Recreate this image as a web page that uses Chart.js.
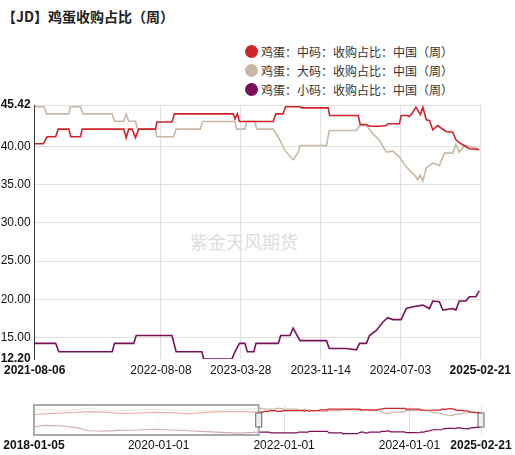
<!DOCTYPE html>
<html><head><meta charset="utf-8">
<script src="https://cdn.jsdelivr.net/npm/chart.js@4"></script>
<style>
body{margin:0;width:515px;height:455px;background:#fff;font-family:"Noto Sans CJK SC",sans-serif;position:relative;overflow:hidden}
#title{position:absolute;left:2px;top:6px;font-size:14px;font-weight:bold;color:#222}
#legend{position:absolute;right:62px;top:42px;font-size:12px;color:#333;line-height:19px}
#legend div{display:flex;align-items:center;justify-content:flex-start}
#legend span.d{display:inline-block;width:13px;height:13px;border-radius:7px;margin-right:3px}
#wm{position:absolute;left:190px;top:228px;font-size:18px;color:#ddd}
canvas{position:absolute;left:0}
</style></head><body>
<div id="title">【JD】鸡蛋收购占比（周）</div>
<div id="legend"></div>
<div id="wm">紫金天风期货</div>
<canvas id="c1" width="515" height="385" style="top:0"></canvas>
<canvas id="c2" width="515" height="60" style="top:395px"></canvas>
<script>
const START = "2021-08-06";
const END_DAY = 1295;
const xTickDays = [0, 367, 599, 831, 1063, 1295];
const xTickLabels = ["2021-08-06","2022-08-08","2023-03-28","2023-11-14","2024-07-03","2025-02-21"];
const yTicks = [12.20, 15, 20, 25, 30, 35, 40, 45.42];
const names = ["鸡蛋：中码：收购占比：中国（周）","鸡蛋：大码：收购占比：中国（周）","鸡蛋：小码：收购占比：中国（周）"];
const colors = ["#d0232a","#c9b8a5","#7b0f5a"];
// [day offset since 2021-08-06, value]
const midSize = [[0,40.35],[25,40.35],[36,41.26],[61,41.26],[68,42.26],[99,42.26],[105,41.26],[133,41.26],[138,42.26],[259,42.26],[266,41.13],[273,42.26],[283,42.26],[293,41.13],[302,42.26],[351,42.26],[355,43.2],[399,43.2],[406,44.26],[577,44.26],[582,43.6],[589,44.26],[595,43.26],[693,43.26],[701,44.26],[722,44.26],[729,45.2],[771,45.2],[775,45.04],[853,45.04],[857,44.04],[940,44.04],[946,42.87],[964,42.87],[973,42.65],[1002,42.65],[1022,42.74],[1026,42.96],[1060,42.96],[1065,44.04],[1084,44.04],[1089,43.9],[1099,44.48],[1108,45.13],[1121,44.17],[1128,45.13],[1138,43.48],[1147,43.39],[1157,42.17],[1171,42.74],[1195,41.96],[1215,41.87],[1224,40.87],[1239,40.35],[1263,39.7],[1292,39.6]];
const bigSize = [[0,45.2],[27,45.2],[35,44.26],[99,44.26],[104,45.2],[133,45.2],[140,44.26],[225,44.26],[232,43.3],[259,43.3],[266,44.26],[273,43.3],[293,43.3],[299,42.26],[351,42.26],[355,41.26],[404,41.26],[411,42.26],[481,42.26],[488,43.26],[582,43.26],[587,42.26],[611,42.26],[616,43.26],[640,43.26],[645,42.26],[693,42.26],[708,41.22],[727,39.48],[751,38.26],[766,39.26],[771,40.13],[848,40.13],[856,42.09],[935,42.09],[944,42.7],[964,42.7],[983,41.65],[1002,40.78],[1022,39.26],[1041,39.39],[1060,38.6],[1080,37.3],[1104,36.22],[1113,35.65],[1120,36.22],[1128,35.48],[1138,37.22],[1157,37.83],[1176,37.52],[1191,39.13],[1215,39.13],[1224,40.26],[1234,39.26],[1249,40.13],[1282,39.83],[1292,39.48]];
const smallSize = [[0,14.25],[61,14.25],[70,13.14],[225,13.14],[232,14.25],[288,14.25],[295,15.27],[399,15.27],[411,13.14],[486,13.14],[491,12.2],[573,12.2],[582,13.14],[595,14.25],[611,14.25],[618,13.14],[637,13.14],[643,14.25],[708,14.25],[715,15.27],[742,15.27],[751,16.24],[771,14.6],[848,14.6],[856,13.58],[906,13.58],[935,13.4],[944,14.25],[964,14.25],[973,15.27],[993,15.93],[1012,17.04],[1026,17.6],[1041,17.35],[1065,17.35],[1080,18.8],[1099,19.03],[1128,19.25],[1147,18.8],[1157,19.78],[1176,19.7],[1186,18.6],[1215,18.8],[1224,18.6],[1234,19.78],[1253,19.78],[1263,20.35],[1282,20.35],[1292,21.1]];
// navigator: days since 2018-01-05 (earlier history, estimated)
const NAV_OFFSET = 1309;
const navTickDays = [0, 726, 1457, 2187, 2604];
const navTickLabels = ["2018-01-05","2020-01-01","2022-01-01","2024-01-01","2025-02-21"];
const midEarly = [[0,37],[60,38],[150,39],[250,40],[320,41],[400,40.5],[500,38.5],[600,39],[700,40],[800,39.5],[900,38],[1000,40],[1100,41],[1200,41],[1309,40.35]];
const bigEarly = [[0,44],[80,43.5],[150,42],[250,44],[320,45.5],[400,43],[500,42],[600,43],[700,44],[800,43],[900,42],[1000,41.5],[1100,43],[1200,44],[1309,45.2]];
const smallEarly = [[0,21],[60,23],[150,22.5],[250,20],[320,16],[400,15.5],[500,16.5],[600,17],[700,18],[800,17],[900,16],[1000,15],[1100,14],[1200,13],[1309,14.25]];
const series = [midSize, bigSize, smallSize];
const early = [midEarly, bigEarly, smallEarly];

document.getElementById('legend').innerHTML = names.map((n,i)=>`<div><span class="d" style="background:${colors[i]}"></span>${n}</div>`).join('');

const toPts = a => a.map(p=>({x:p[0],y:p[1]}));
const boldEnds = n => (ctx)=>({family:"Liberation Sans, Arial", size:12, weight:(ctx.index===0||ctx.index===n-1)?'bold':'normal'});

new Chart(document.getElementById('c1'), {
  type:'line',
  data:{datasets: series.map((s,i)=>({label:names[i],data:toPts(s),borderColor:colors[i],borderWidth:1.6,pointRadius:0,tension:0}))},
  options:{
    animation:false,responsive:false,
    layout:{padding:{top:105,right:34,left:0,bottom:0}},
    plugins:{legend:{display:false},tooltip:{enabled:false}},
    scales:{
      x:{type:'linear',min:0,max:END_DAY,
        afterBuildTicks:s=>{s.ticks=xTickDays.map(v=>({value:v}))},
        afterFit:s=>{s.height=26},
        grid:{color:'#e0e0e0',drawTicks:false},border:{display:false},
        ticks:{maxRotation:0,autoSkip:false,color:'#111',padding:4,font:boldEnds(xTickDays.length),callback:(v,i)=>xTickLabels[i]}},
      y:{min:12.2,max:45.42,
        afterBuildTicks:s=>{s.ticks=yTicks.map(v=>({value:v}))},
        afterFit:s=>{s.width=34},
        grid:{color:(c)=>c.index===0?'rgba(0,0,0,0)':'#e0e0e0',drawTicks:false},border:{display:true,color:'#333'},
        ticks:{crossAlign:'far',padding:2,color:'#111',autoSkip:false,
          font:boldEnds(yTicks.length),
          callback:v=>v.toFixed(2)}}
    }
  }
});

const boxPlugin = {id:'box',afterDatasetsDraw(ch){
  const c=ch.ctx,x=ch.scales.x,a=ch.chartArea;
  const x0=x.getPixelForValue(0),x1=x.getPixelForValue(NAV_OFFSET),x2=x.getPixelForValue(2604);
  c.save();
  c.fillStyle='rgba(255,255,255,0.65)';c.fillRect(x0,a.top,x1-x0,a.bottom-a.top);
  c.strokeStyle='#aaa';c.lineWidth=2;c.strokeRect(x0,a.top,x1-x0,a.bottom-a.top);
  c.fillStyle='#eee';c.strokeStyle='#666';c.lineWidth=1;
  [x1,x2].forEach(px=>{c.fillRect(px-3,a.top+8,6,14);c.strokeRect(px-3,a.top+8,6,14);});
  c.restore();}};
new Chart(document.getElementById('c2'), {
  type:'line',
  data:{datasets: series.map((s,i)=>({data:toPts(early[i].concat(s.map(p=>[p[0]+NAV_OFFSET,p[1]]))),borderColor:colors[i],borderWidth:1.2,pointRadius:0}))},
  options:{animation:false,responsive:false,
    layout:{padding:{top:10,right:34,left:34,bottom:0}},
    plugins:{legend:{display:false},tooltip:{enabled:false}},
    scales:{
      x:{type:'linear',min:0,max:2604,
        afterBuildTicks:s=>{s.ticks=navTickDays.map(v=>({value:v}))},
        afterFit:s=>{s.height=20},
        grid:{color:'#e0e0e0',drawTicks:false},border:{display:false},
        ticks:{maxRotation:0,autoSkip:false,color:'#111',padding:3,font:boldEnds(navTickDays.length),callback:(v,i)=>navTickLabels[i]}},
      y:{display:false,min:10.5,max:49.5}}
  },plugins:[boxPlugin]
});
</script></body></html>
